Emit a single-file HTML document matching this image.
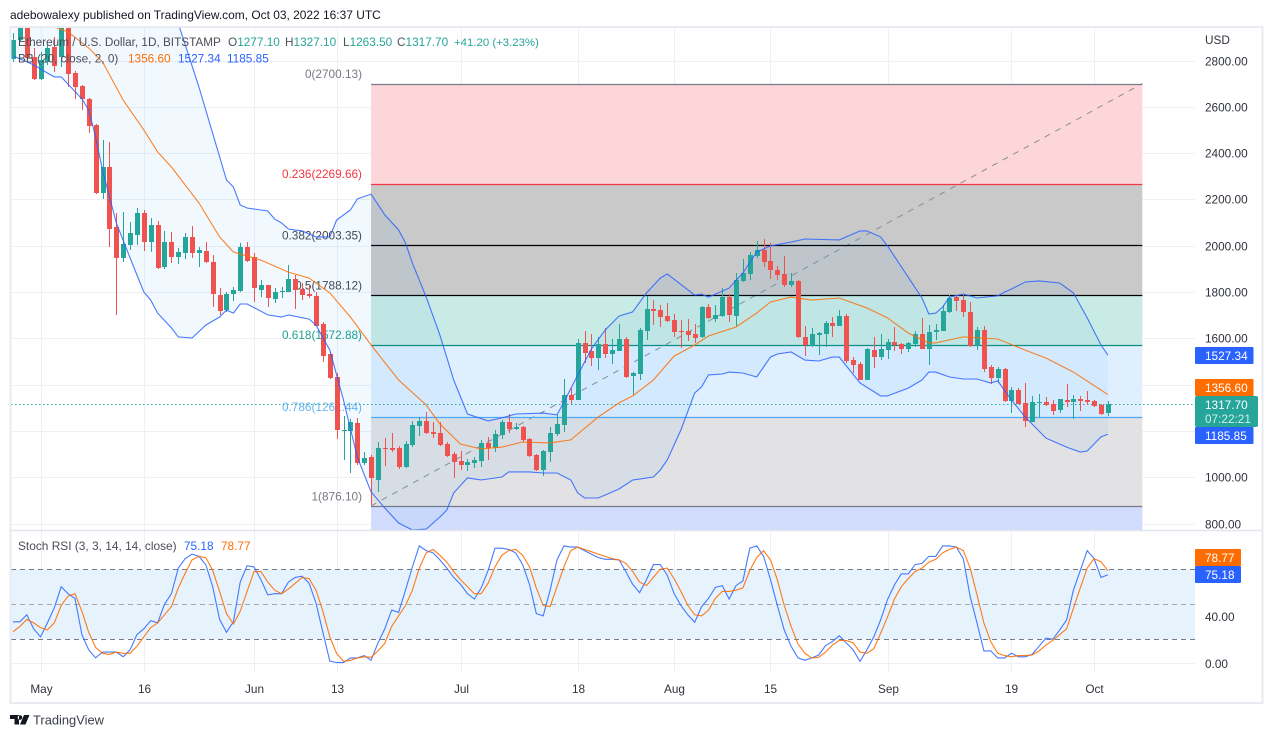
<!DOCTYPE html>
<html lang="en">
<head>
<meta charset="utf-8">
<title>ETH/USD TradingView chart</title>
<style>
html,body{margin:0;padding:0;background:#fff;width:1273px;height:738px;overflow:hidden}
svg{display:block}
text{font-family:"Liberation Sans",sans-serif;font-size:11.8px;fill:#131722}
.leg{fill:#4a4e59;font-size:11.8px}
.up{fill:#26a69a}
.axis{fill:#2f333d;font-size:11.8px}
.badge{fill:#fff;font-size:11.8px}
</style>
</head>
<body>
<svg id="chart" xmlns="http://www.w3.org/2000/svg" width="1273" height="738" viewBox="0 0 1273 738">
  <defs>
    <clipPath id="mainClip"><rect x="11" y="28" width="1184" height="502"/></clipPath>
    <clipPath id="stochClip"><rect x="11" y="532" width="1184" height="170"/></clipPath>
  </defs>
  <text x="10" y="19" style="font-size:11.95px" fill="#131722">adebowalexy published on TradingView.com, Oct 03, 2022 16:37 UTC</text>

  <g id="gridLayer"></g>
  <g id="stochBackLayer"></g>
  <g id="fibLayer" clip-path="url(#mainClip)"></g>
  <g id="bandLayer" clip-path="url(#mainClip)"></g>
  <g id="candleLayer" clip-path="url(#mainClip)"></g>
  <g id="lineLayer" clip-path="url(#mainClip)"></g>
  <g id="stochLayer" clip-path="url(#stochClip)"></g>
  <g id="axisLayer"></g>

  <rect x="10.5" y="27" width="1252" height="676" fill="none" stroke="#e9ebf2" stroke-width="2"/>
  <line x1="10" x2="1263" y1="530.5" y2="530.5" stroke="#e3e5ee" stroke-width="1.5"/>

  <text class="leg" x="18" y="46" style="font-size:11.75px">Ethereum / U.S. Dollar, 1D, BITSTAMP</text>
  <text class="leg" x="228" y="46">O<tspan class="up">1277.10</tspan></text>
  <text class="leg" x="285" y="46">H<tspan class="up">1327.10</tspan></text>
  <text class="leg" x="343" y="46">L<tspan class="up">1263.50</tspan></text>
  <text class="leg" x="397" y="46">C<tspan class="up">1317.70</tspan></text>
  <text class="leg up" x="454" y="46" style="fill:#26a69a;font-size:11.4px">+41.20 (+3.23%)</text>
  <text class="leg" x="18" y="62.5">BB (20, close, 2, 0)</text>
  <text class="leg" x="128" y="62.5" style="fill:#ff6d00">1356.60</text>
  <text class="leg" x="178" y="62.5" style="fill:#2962ff">1527.34</text>
  <text class="leg" x="227" y="62.5" style="fill:#2962ff">1185.85</text>
  <text class="leg" x="18" y="550" style="font-size:11.9px">Stoch RSI (3, 3, 14, 14, close)</text>
  <text class="leg" x="184" y="550" style="fill:#2962ff">75.18</text>
  <text class="leg" x="221" y="550" style="fill:#ff6d00">78.77</text>

  <text class="axis" x="1205" y="44">USD</text>

  <rect x="1195" y="347" width="58.5" height="17" rx="1" fill="#2962ff"/>
  <text class="badge" x="1205" y="360">1527.34</text>
  <rect x="1195" y="379" width="58.5" height="17" rx="1" fill="#ff6d00"/>
  <text class="badge" x="1205" y="392">1356.60</text>
  <rect x="1195" y="396" width="63" height="31" rx="2" fill="#26a69a"/>
  <text class="badge" x="1205" y="409">1317.70</text>
  <text class="badge" x="1205" y="423" style="fill:#d2eeeb">07:22:21</text>
  <rect x="1195" y="427" width="58.5" height="17" rx="1" fill="#2962ff"/>
  <text class="badge" x="1205" y="440">1185.85</text>
  <rect x="1195" y="549" width="46" height="17" rx="1" fill="#ff6d00"/>
  <text class="badge" x="1205" y="562">78.77</text>
  <rect x="1195" y="566" width="46" height="17" rx="1" fill="#2962ff"/>
  <text class="badge" x="1205" y="579">75.18</text>

  <g>
    <path d="M10 715h9v9.5h-4.5v-5.5H10zM20 715.2a2.3 2.3 0 1 0 .01 0zM24 715h5.5l-4 9.5H20z" fill="#131722"/>
    <text x="33" y="724.5" style="font-size:12.9px;fill:#3a3e48">TradingView</text>
  </g>
</svg>

<script>
// ---- Candle data (USD) ----
const opens = [2807,2889,2966,2815,2720,2794,2858,2815,2975,2746,
2690,2634,2522,2228,2340,2081,1947,2003,2046,2141,
2016,2089,1908,2016,1951,1969,2038,1969,1977,1930,
1787,1722,1791,1804,1994,1951,1809,1830,1770,1800,
1800,1856,1813,1791,1783,1662,1532,1433,1200,1200,
1234,1061,1087,988,1126,1126,1126,1044,1139,1221,
1243,1195,1191,1143,1100,1070,1053,1061,1070,1148,
1126,1182,1238,1208,1217,1165,1096,1031,1109,1187,
1225,1355,1333,1580,1545,1515,1575,1532,1545,1597,
1437,1446,1632,1727,1722,1696,1679,1632,1632,1619,
1606,1735,1683,1696,1778,1696,1848,1878,1955,1981,
1934,1895,1878,1830,1848,1606,1567,1614,1619,1666,
1653,1696,1506,1489,1420,1549,1519,1549,1584,1575,
1554,1575,1619,1554,1627,1632,1714,1778,1765,1714,
1567,1636,1476,1429,1467,1329,1377,1320,1238,1320,
1325,1316,1290,1333,1325,1338,1333,1329,1312,1277.1];
const highs = [2919,2997,2984,2854,2837,2867,2902,2997,2997,2755,
2694,2638,2526,2457,2448,2141,2146,2102,2163,2154,
2120,2107,2064,2059,1990,2055,2085,1994,2016,1960,
1817,1800,1822,2012,2016,1969,1852,1830,1817,1822,
1917,1873,1839,1830,1800,1670,1541,1450,1264,1251,
1256,1109,1096,1152,1169,1191,1135,1156,1243,1260,
1282,1238,1238,1152,1109,1113,1079,1087,1161,1174,
1204,1247,1273,1234,1221,1169,1100,1118,1217,1269,
1424,1385,1597,1632,1619,1606,1645,1597,1662,1606,
1454,1645,1783,1765,1744,1752,1705,1679,1683,1662,
1740,1748,1744,1817,1791,1882,1943,1973,2020,2029,
2012,1912,1956,1882,1852,1653,1645,1627,1675,1692,
1722,1705,1519,1498,1558,1606,1619,1597,1649,1580,
1584,1632,1688,1658,1662,1740,1787,1787,1787,1757,
1649,1653,1485,1476,1472,1390,1385,1407,1351,1359,
1346,1333,1338,1403,1355,1351,1372,1333,1316,1327.1];
const lows = [2794,2880,2802,2716,2716,2781,2750,2772,2686,2634,
2586,2487,2223,2202,1994,1701,1930,1981,2003,1977,
1973,1899,1899,1925,1921,1943,1947,1908,1925,1735,
1701,1714,1761,1800,1930,1757,1778,1735,1752,1774,
1800,1727,1765,1774,1653,1498,1424,1165,1074,1018,
1053,1053,880,936,1048,1109,1035,1040,1131,1178,
1187,1169,1135,1087,997,1031,1027,1040,1044,1074,
1109,1165,1191,1204,1152,1087,1027,1005,1066,1178,
1195,1316,1333,1493,1480,1463,1515,1489,1545,1429,
1355,1420,1593,1658,1649,1670,1606,1558,1588,1580,
1601,1683,1670,1692,1670,1653,1843,1852,1947,1908,
1856,1852,1822,1822,1601,1523,1562,1528,1562,1606,
1653,1493,1450,1420,1420,1472,1506,1511,1545,1532,
1541,1562,1554,1485,1593,1632,1709,1718,1692,1562,
1549,1454,1403,1407,1325,1277,1316,1217,1238,1260,
1308,1269,1277,1303,1251,1286,1312,1303,1269,1263.5];
const closes = [2889,2975,2811,2720,2802,2854,2776,2975,2742,2686,
2634,2517,2228,2340,2072,1947,2007,2055,2141,2016,
2089,1904,2016,1951,1973,2038,1969,1981,1930,1791,
1718,1791,1809,1994,1934,1817,1830,1774,1800,1804,
1856,1809,1787,1783,1653,1523,1429,1204,1204,1238,
1061,1083,997,1126,1122,1118,1044,1143,1225,1243,
1191,1187,1139,1092,1066,1053,1066,1074,1148,1126,
1187,1238,1208,1217,1161,1092,1031,1113,1191,1230,
1355,1333,1580,1537,1515,1575,1532,1549,1597,1433,
1450,1636,1727,1718,1692,1675,1627,1627,1614,1601,
1735,1688,1701,1778,1701,1852,1882,1960,1981,1930,
1895,1873,1830,1848,1606,1571,1619,1623,1666,1653,
1696,1502,1485,1420,1554,1519,1554,1584,1571,1554,
1580,1619,1554,1627,1636,1718,1774,1761,1714,1567,
1636,1467,1429,1467,1329,1377,1316,1243,1325,1325,
1312,1286,1338,1325,1338,1329,1325,1308,1273,1317.7];

// ---- Bollinger Bands: readings by day number ----
const upperDays = [0,15,24,27,31,32,33,34,37,38,39,40,42,44,46,47,49,50,52,54,56,57,58,60,62,64,66,69,71,73,77,79,80,82,84,86,88,90,92,94,95,99,100,101,104,106,108,110,113,115,120,123,124,126,127,132,133,134,135,136,138,140,143,144,145,147,149,152,154,156,158,159];
const upperValues = [3500,3380,2960,2686,2284,2254,2176,2163,2150,2115,2098,2072,2064,2038,2038,2111,2154,2202,2223,2133,2068,2012,1925,1778,1614,1420,1273,1243,1256,1273,1277,1269,1325,1441,1554,1636,1696,1714,1796,1860,1878,1787,1791,1778,1817,1882,1973,1999,2016,2029,2025,2064,2064,2038,1999,1774,1705,1709,1735,1778,1791,1774,1783,1800,1813,1843,1848,1839,1796,1688,1571,1527.34];
const lowerDays = [0,3,5,6,7,10,11,12,13,15,17,19,20,21,23,24,26,28,30,31,32,33,34,37,39,40,43,44,46,48,50,52,54,56,58,60,62,63,64,66,68,71,72,75,77,79,81,82,83,85,87,88,90,93,94,95,97,99,100,101,103,104,106,108,110,111,113,115,117,119,120,123,126,127,130,132,133,134,136,138,140,142,143,145,147,150,153,155,156,158,159];
const lowerValues = [2820,2781,2746,2729,2729,2634,2586,2470,2327,2098,1947,1800,1765,1709,1645,1606,1601,1657,1692,1722,1709,1748,1748,1701,1692,1701,1683,1657,1549,1333,1087,936,867,802,772,776,828,858,932,997,988,1001,1023,1023,1018,1018,988,932,910,910,936,949,988,1001,1031,1074,1204,1364,1390,1442,1446,1454,1450,1433,1519,1532,1541,1506,1502,1519,1519,1407,1351,1351,1385,1420,1454,1454,1433,1424,1424,1407,1416,1333,1260,1169,1130,1109,1113,1174,1185.85];
const basisDays = [0,6,8,11,13,16,19,21,23,27,30,32,36,40,43,46,49,52,56,60,62,65,68,71,74,78,81,85,88,90,93,96,99,101,105,108,110,113,116,120,124,127,130,133,134,138,143,147,150,154,159];
const basisValues = [2997,2945,2923,2854,2794,2629,2500,2405,2340,2185,2038,1973,1938,1886,1860,1796,1692,1571,1420,1312,1230,1143,1122,1130,1152,1148,1161,1260,1321,1351,1420,1523,1571,1610,1649,1709,1757,1778,1765,1774,1731,1688,1623,1580,1580,1606,1597,1549,1515,1454,1356.6];

// ---- Stoch RSI ----
const stochK = [35,35,41,29,22,34,47,65,59,55,
24,11,4,9,9,9,5,11,24,29,
36,34,50,59,81,89,93,91,84,65,
37,26,35,69,83,82,71,58,59,59,
69,73,74,68,51,26,1.4,0,0,4,
4,6,2,17,29,45,43,62,82,100,
96,94,88,81,73,67,59,54.5,64,79,
98,98,97,94,84,67,42,40,62,88,
100,99,99,96,93,90,88.5,88.5,88,78,
67,60,71,84,84,75,59,49,41,34.5,
48,55,64.5,66,54.5,66,70,98,100,91,
71,49,28,14,4,2,4,6.5,14.5,18,
23,17,11,1,11,22,36.5,54,66.5,76,
76,84,85,91,91,100,100,99,89,56.5,
34,10,10,4,4,8,5,5,7,14,
21,20,28,36.5,62,79,96,89,73,75.18];
const stochD = [26.5,31,37,34,30,28,34,49,57,59,
44,26,13,8,7,9,8,8,14,22,
30,34,41,48,64,76.5,88,91,90,79,
61,42,33,44,61,78,78,69,62,59,
63,68,73,72,62,44,22,8,1,2,
4,5,4.5,10,16.5,31,40,49,62,81,
94,97,92,86,78,71,65,59,59,68,
82,92,96,97,92,82,64,49,48,65,
82,96,99,97,95,93,91,89,88,85,
78,69,66,73,80,81,72,61,49,41,
40,45,55,61,61,62,64,79,90,96,
88,71,49,31,16,8,4,4.5,9,15,
19,19,17,9,8,12,25,39,54.5,65,
72,78,81,86,88.5,94,97,99,96,81,
58,34,18,8,6,5,6,6,6.5,10,
15,19,24,29,46.5,64,81,89,86.5,78.77];

// ---- Ticks & levels ----
const priceTicks = [800,1000,1200,1400,1600,1800,2000,2200,2400,2600,2800];
const priceTickLabels = ["800.00","1000.00",null,null,"1600.00","1800.00","2000.00","2200.00","2400.00","2600.00","2800.00"];
const stochGridTicks = [0,40];
const stochTickLabels = ["0.00","40.00"];
const stochBands = [80,50,20];
const timeDays = [4,19,35,47,65,82,96,110,127,145,157];
const timeLabels = ["May","16","Jun","13","Jul","18","Aug","15","Sep","19","Oct"];
const fibRatios = ["0","0.236","0.382","0.5","0.618","0.786","1"];
const fibPrices = [2700.13,2269.66,2003.35,1788.12,1572.88,1261.44,876.10];
const fibFills = ["#fdd6d9","#c9c9c9","#c9c9c9","#c9ebe5","#dfeffe","#e2e2e4","#d2dcfc"];
const fibLineColors = ["#787b86","#f23645","#000000","#000000","#0e8f7d","#4fa9f5","#787b86"];
const fibTextColors = ["#787b86","#f23645","#434651","#434651","#22a28f","#64b5f6","#787b86"];
const fibStartDay = 52;
const fibEndDay = 164;
const lastPrice = 1317.7;
const axisBottomPrice = 800;

// ---- Axis functions ----
function xDay(d){ return 13 + 6.886 * d; }
function yPrice(p){ return 523.5 - (p - axisBottomPrice) * 0.2315; }
function yStoch(v){ return 662.6 - v * 1.167; }

const NS = 'http://www.w3.org/2000/svg';
function mk(tag, attrs, parent, txt){
  const el = document.createElementNS(NS, tag);
  for (const k in attrs) el.setAttribute(k, attrs[k]);
  if (txt !== undefined) el.textContent = txt;
  parent.appendChild(el);
  return el;
}
const grid = document.getElementById('gridLayer');
const stochBack = document.getElementById('stochBackLayer');
const fibLayer = document.getElementById('fibLayer');
const bandLayer = document.getElementById('bandLayer');
const candleLayer = document.getElementById('candleLayer');
const lineLayer = document.getElementById('lineLayer');
const stochLayer = document.getElementById('stochLayer');
const axisLayer = document.getElementById('axisLayer');

// grid lines and time axis
priceTicks.forEach(function(p){
  const y = Math.round(yPrice(p)) + 0.5;
  const ln = mk('line', {x1:11, x2:1195, y1:y, y2:y, stroke:'#eef0f6'}, grid);
  
  
});
timeDays.forEach(function(d, i){
  const x = Math.round(xDay(d)) + 0.5;
  const ln = mk('line', {x1:x, x2:x, y1:28, y2:672, stroke:'#eef0f6'}, grid);
  
  
  const t = mk('text', {x:x, y:693, 'text-anchor':'middle', 'class':'axis'}, axisLayer, timeLabels[i]);
  
  
});
stochGridTicks.forEach(function(v, i){
  const y = Math.round(yStoch(v)) + 0.5;
  const ln = mk('line', {x1:11, x2:1195, y1:y, y2:y, stroke:'#eef0f6'}, grid);
  
  
  const t = mk('text', {x:1205, y:y + 4.5, 'class':'axis'}, axisLayer, stochTickLabels[i]);
  
  
});
priceTicks.forEach(function(p, i){
  if (!priceTickLabels[i]) return;
  const t = mk('text', {x:1205, y:Math.round(yPrice(p)) + 4.5, 'class':'axis'}, axisLayer, priceTickLabels[i]);
  
  
});

// stoch background
const stochZone = mk('rect', {x:11, y:yStoch(stochBands[0]), width:1184, height:yStoch(stochBands[2]) - yStoch(stochBands[0]), fill:'#e6f3fd'}, stochBack);


stochBands.forEach(function(v, i){
  const y = Math.round(yStoch(v)) + 0.5;
  const ln = mk('line', {x1:11, x2:1195, y1:y, y2:y, stroke: i === 1 ? '#a4a7ae' : '#787b86', 'stroke-dasharray':'5 4'}, stochBack);
  
  
});

// fibonacci zones
const fx1 = xDay(fibStartDay), fx2 = xDay(fibEndDay);
fibPrices.forEach(function(p, i){
  const top = Math.round(yPrice(p) + 0.25);
  const bottom = i < fibPrices.length - 1 ? Math.round(yPrice(fibPrices[i + 1]) + 0.25) : 532;
  const z = mk('rect', {x:fx1, y:top, width:fx2 - fx1, height:bottom - top, fill:fibFills[i]}, fibLayer);
  
  
});
fibPrices.forEach(function(p, i){
  const t = mk('text', {x:362, y:yPrice(p) - 5.5, 'text-anchor':'end', fill:fibTextColors[i], style:'fill:' + fibTextColors[i]}, fibLayer, fibRatios[i] + '(' + p.toFixed(2) + ')');
  
  
});
const trend = mk('line', {x1:fx1, x2:fx2, y1:yPrice(fibPrices[6]), y2:yPrice(fibPrices[0]), stroke:'#8a8d96', 'stroke-dasharray':'6 6'}, fibLayer);


fibPrices.forEach(function(p, i){
  const y = Math.round(yPrice(p) + 0.25) + 0.5;
  const ln = mk('line', {x1:fx1, x2:fx2, y1:y, y2:y, stroke:fibLineColors[i], 'stroke-width':'1.2'}, fibLayer);
  
  
});

// bollinger fill
function pts(days, vals){ return days.map(function(d, i){ return xDay(d).toFixed(1) + ',' + yPrice(vals[i]).toFixed(1); }); }
const upPts = pts(upperDays, upperValues);
const loPts = pts(lowerDays, lowerValues);
const bandFill = mk('polygon', {points:upPts.concat(loPts.slice().reverse()).join(' '), fill:'#2196f3', 'fill-opacity':'0.06'}, bandLayer);



// last price dotted line
const dotY = Math.round(yPrice(lastPrice)) + 0.5;
const dotLine = mk('line', {x1:11, x2:1195, y1:dotY, y2:dotY, stroke:'#26a69a', 'stroke-dasharray':'1.5 2.5'}, bandLayer);



// candles
closes.forEach(function(c, i){
  const o = opens[i], col = c >= o ? '#26a69a' : '#ef5350';
  const x = Math.round(xDay(i));
  const hy = Math.round(yPrice(highs[i])), ly = Math.round(yPrice(lows[i]));
  const ty = Math.round(yPrice(Math.max(o, c))), by = Math.round(yPrice(Math.min(o, c)));
  const wick = mk('rect', {x:x, y:hy, width:1, height:Math.max(1, ly - hy), fill:col}, candleLayer);
  
  
  const body = mk('rect', {x:x - 2, y:ty, width:5, height:Math.max(1, by - ty), fill:col}, candleLayer);
  
  
});

// bollinger lines
const upperLine = mk('polyline', {points:upPts.join(' '), fill:'none', stroke:'#2962ff', 'stroke-opacity':'0.85', 'stroke-width':'1.1'}, lineLayer);


const lowerLine = mk('polyline', {points:loPts.join(' '), fill:'none', stroke:'#2962ff', 'stroke-opacity':'0.85', 'stroke-width':'1.1'}, lineLayer);


const basisLine = mk('polyline', {points:pts(basisDays, basisValues).join(' '), fill:'none', stroke:'#ff6d00', 'stroke-opacity':'0.85', 'stroke-width':'1.1'}, lineLayer);



// stoch lines
function stochPts(vals){ return vals.map(function(v, i){ return xDay(i).toFixed(1) + ',' + yStoch(v).toFixed(1); }).join(' '); }
const kLine = mk('polyline', {points:stochPts(stochK), fill:'none', stroke:'#2962ff', 'stroke-opacity':'0.85', 'stroke-width':'1.1'}, stochLayer);


const dLine = mk('polyline', {points:stochPts(stochD), fill:'none', stroke:'#ff6d00', 'stroke-opacity':'0.9', 'stroke-width':'1.1'}, stochLayer);


</script>
</body>
</html>
